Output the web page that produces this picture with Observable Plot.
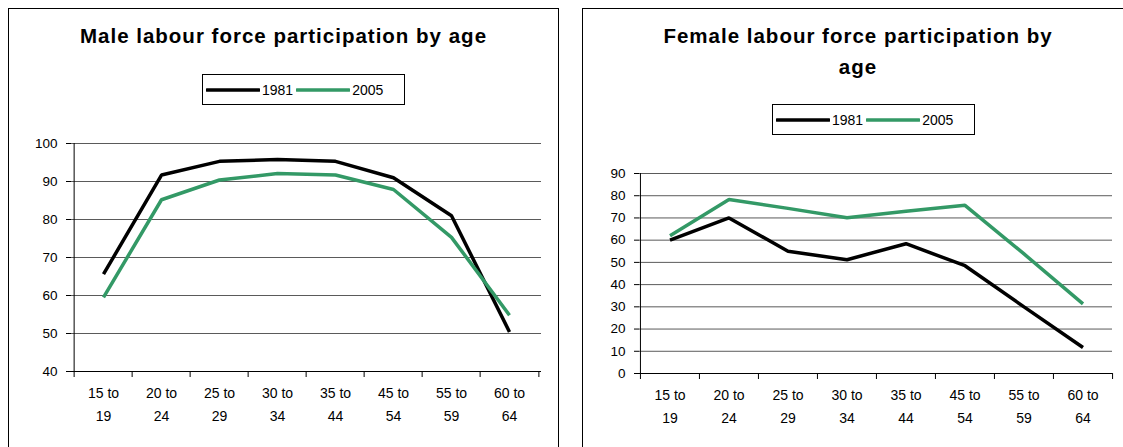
<!DOCTYPE html>
<html><head><meta charset="utf-8">
<script src="https://cdn.jsdelivr.net/npm/d3@7"></script>
<script src="https://cdn.jsdelivr.net/npm/@observablehq/plot@0.6"></script>
<style>
body{margin:0;background:#fff;font-family:"Liberation Sans",Arial,sans-serif;color:#000;}
#root{position:relative;width:1123px;height:447px;overflow:hidden;background:#fff;}
.panel{position:absolute;border:1px solid #000;background:#fff;box-sizing:border-box;}
.title{position:absolute;font-weight:bold;font-size:20.5px;letter-spacing:1px;text-align:center;line-height:31px;white-space:nowrap;}
.legend{position:absolute;border:1px solid #000;box-sizing:border-box;display:flex;align-items:center;font-size:14px;padding-left:3px;}
.legend svg{display:block;}
.legend span{margin:0 3px 0 2px;}
.plot{position:absolute;}
</style></head>
<body><div id="root"></div>
<script>
const ageGroups = ["15 to 19","20 to 24","25 to 29","30 to 34","35 to 44","45 to 54","55 to 59","60 to 64"];
const years = ["1981","2005"];
const yearColors = ["#000000","#339966"];
const male1981 = [65.6, 91.7, 95.3, 95.8, 95.3, 91.0, 81.0, 50.4];
const male2005 = [59.5, 85.2, 90.4, 92.1, 91.7, 87.9, 75.3, 54.8];
const female1981 = [60.0, 70.0, 55.0, 51.2, 58.4, 48.5, 30.0, 11.7];
const female2005 = [62.0, 78.3, 74.3, 70.1, 73.0, 75.7, 53.8, 31.3];
const maleTicks = [40,50,60,70,80,90,100];
const femaleTicks = [0,10,20,30,40,50,60,70,80,90];
const maleTitle = "Male labour force participation by age";
const femaleTitle = ["Female labour force participation by", "age"];

const root = document.getElementById("root");

function rows(a, b) {
  const out = [];
  ageGroups.forEach((g, i) => { out.push({age: g, year: years[0], value: a[i]}); });
  ageGroups.forEach((g, i) => { out.push({age: g, year: years[1], value: b[i]}); });
  return out;
}

function addDiv(cls, style, html) {
  const d = document.createElement("div");
  d.className = cls;
  Object.assign(d.style, style);
  if (html !== undefined) d.innerHTML = html;
  root.appendChild(d);
  return d;
}

function legendHTML() {
  return years.map((y, i) =>
    `<svg width="54" height="8"><line x1="1" y1="4" x2="53" y2="4" stroke="${yearColors[i]}" stroke-width="3.5" stroke-linecap="round"/></svg><span>${y}</span>`
  ).join("");
}

function chart({data, ticks, width, height, marginLeft, marginRight, marginTop, marginBottom}) {
  const innerW = width - marginLeft - marginRight;
  const bw = innerW / ageGroups.length;
  const ymin = ticks[0], ymax = ticks[ticks.length - 1];
  return Plot.plot({
    width, height, marginLeft, marginRight, marginTop, marginBottom,
    style: {fontFamily: '"Liberation Sans", Arial, sans-serif', color: "#000", background: "transparent"},
    x: {type: "band", domain: ageGroups, paddingInner: 0, paddingOuter: 0, axis: null},
    y: {domain: [ymin, ymax], axis: null},
    color: {domain: years, range: yearColors},
    marks: [
      Plot.ruleY(ticks, {stroke: "#5a5a5a", strokeWidth: 1}),
      Plot.ruleY([ymin], {stroke: "#000", strokeWidth: 1}),
      Plot.ruleX([ageGroups[0]], {dx: -bw / 2, y1: ymax, y2: ymin, stroke: "#000", strokeWidth: 1}),
      Plot.ruleX(ageGroups, {dx: -bw / 2, y1: ymin, y2: ymin, insetBottom: -6, stroke: "#000"}),
      Plot.ruleX([ageGroups[ageGroups.length - 1]], {dx: bw / 2, y1: ymin, y2: ymin, insetBottom: -6, stroke: "#000"}),
      Plot.axisY(ticks, {label: null, tickSize: 5, tickPadding: 9, fontSize: 13.5, stroke: "#000"}),
      Plot.text(ageGroups, {x: d => d, frameAnchor: "bottom", dy: 11, lineAnchor: "top",
        text: d => d.replace(" to ", " to\n"), lineHeight: 1.6, fontSize: 14, fill: "#000",
        style: {letterSpacing: "1.1px"}}),
      Plot.line(data, {x: "age", y: "value", z: "year", stroke: "year", strokeWidth: 3.5,
        strokeLinejoin: "miter", strokeLinecap: "butt"})
    ]
  });
}

// Left panel
addDiv("panel", {left: "8px", top: "8px", width: "551px", height: "460px"});
addDiv("title", {left: "8px", top: "20px", width: "551px"}, maleTitle);
addDiv("legend", {left: "202px", top: "74px", width: "203px", height: "31px"}, legendHTML());
const left = chart({data: rows(male1981, male2005), ticks: maleTicks,
  width: 545, height: 322, marginLeft: 61, marginRight: 14, marginTop: 18, marginBottom: 76});
left.classList.add("plot");
Object.assign(left.style, {left: "10px", top: "125px"});
root.appendChild(left);

// Right panel
addDiv("panel", {left: "582px", top: "8px", width: "560px", height: "460px"});
addDiv("title", {left: "582px", top: "20px", width: "552px"}, femaleTitle.join("<br>"));
addDiv("legend", {left: "772px", top: "104px", width: "203px", height: "31px"}, legendHTML());
const right = chart({data: rows(female1981, female2005), ticks: femaleTicks,
  width: 535, height: 292, marginLeft: 55, marginRight: 7, marginTop: 18, marginBottom: 74});
right.classList.add("plot");
Object.assign(right.style, {left: "584px", top: "155px"});
root.appendChild(right);
</script>
</body></html>
